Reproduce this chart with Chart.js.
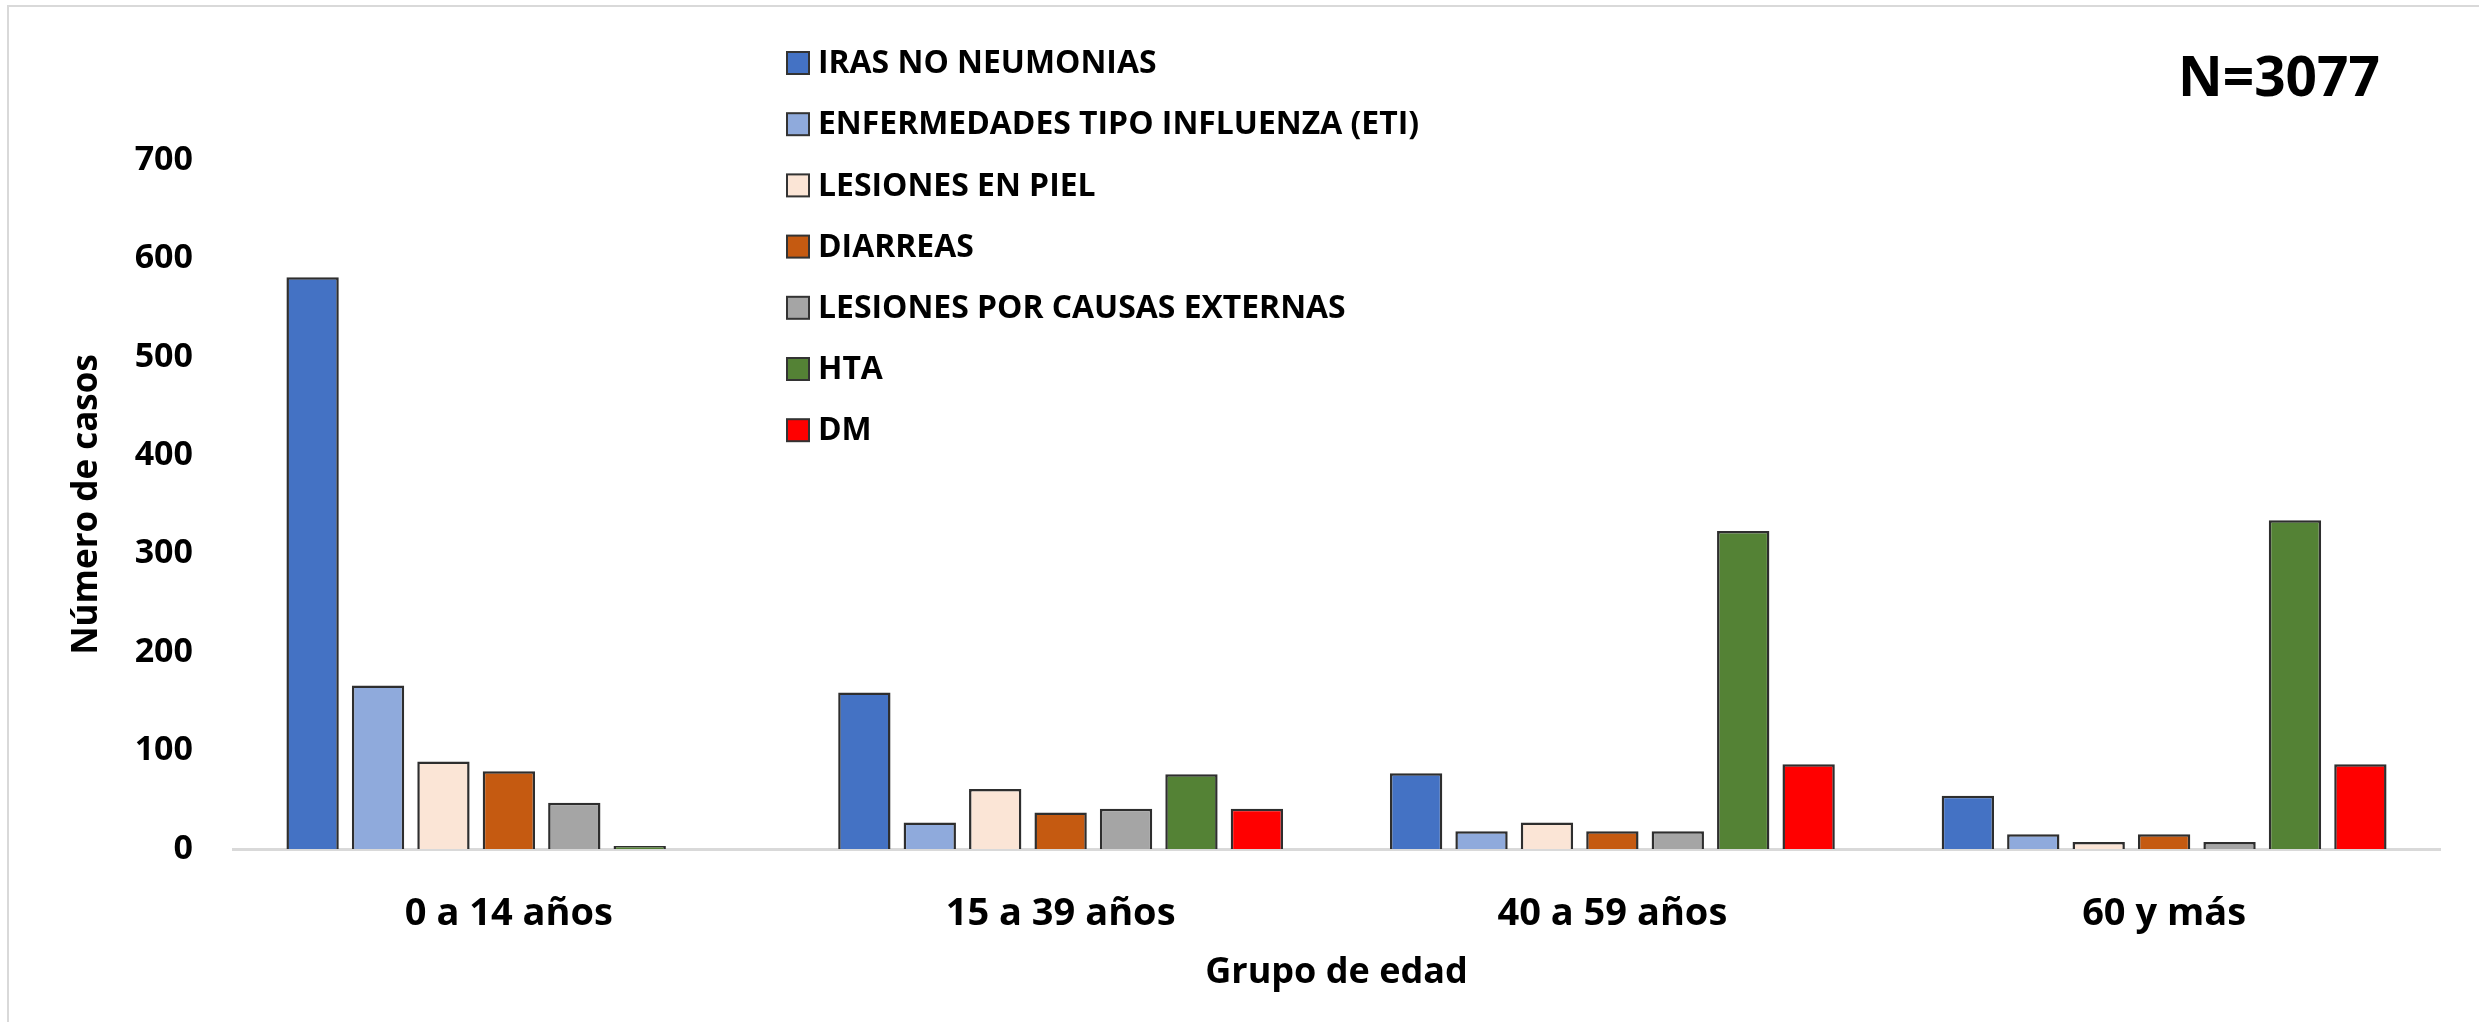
<!DOCTYPE html>
<html>
<head>
<meta charset="utf-8">
<script src="https://cdn.jsdelivr.net/npm/chart.js@4.4.1/dist/chart.umd.min.js"></script>
<style>
  html, body { margin: 0; padding: 0; background: #ffffff; }
  #wrap { position: relative; width: 2479px; height: 1022px; }
  canvas { display: block; }
</style>
</head>
<body>
<div id="wrap"><canvas id="c" width="2479" height="1022"></canvas></div>
<script>
// ---- Data ----
const categories = ['0 a 14 años', '15 a 39 años', '40 a 59 años', '60 y más'];
const seriesNames = [
  'IRAS NO NEUMONIAS',
  'ENFERMEDADES TIPO INFLUENZA (ETI)',
  'LESIONES EN PIEL',
  'DIARREAS',
  'LESIONES POR CAUSAS EXTERNAS',
  'HTA',
  'DM'
];
const irasNoNeumonias   = [581, 159, 77, 54];
const eti               = [166, 27, 18, 15];
const lesionesPiel      = [89, 61, 27, 7];
const diarreas          = [79, 37, 18, 15];
const lesionesExternas  = [47, 41, 18, 7];
const hta               = [3, 76, 323, 334];
const dm                = [0, 41, 86, 86];
const yTicks = [0, 100, 200, 300, 400, 500, 600, 700];
const totalLabel = 'N=3077';
const yTitle = 'Número de casos';
const xTitle = 'Grupo de edad';

const seriesValues = [irasNoNeumonias, eti, lesionesPiel, diarreas, lesionesExternas, hta, dm];
const seriesColors = ['#4472C4', '#8FAADC', '#FBE5D6', '#C55A11', '#A5A5A5', '#548235', '#FF0000'];

const FONT = "'Open Sans', 'DejaVu Sans', sans-serif";

const frame = {
  id: 'frame',
  beforeDraw(chart) {
    const ctx = chart.ctx;
    ctx.save();
    ctx.fillStyle = '#ffffff';
    ctx.fillRect(0, 0, chart.width, chart.height);
    ctx.strokeStyle = '#d9d9d9';
    ctx.lineWidth = 2;
    ctx.beginPath();
    ctx.moveTo(8, chart.height);
    ctx.lineTo(8, 6);
    ctx.lineTo(chart.width, 6);
    ctx.stroke();
    ctx.restore();
  }
};

const customLegend = {
  id: 'customLegend',
  afterDraw(chart) {
    const ctx = chart.ctx;
    ctx.save();
    const x0 = 787, boxW = 22, boxH = 22, textX = 818;
    const y0 = 63, dy = 61.2;
    ctx.font = "bold 32px " + FONT;
    const longest = chart.data.datasets[1].label;
    const sx = Math.min(1, 601 / ctx.measureText(longest).width);
    chart.data.datasets.forEach((ds, i) => {
      const y = y0 + i * dy;
      ctx.fillStyle = ds.backgroundColor;
      ctx.fillRect(x0, y - boxH / 2, boxW, boxH);
      ctx.strokeStyle = '#333333';
      ctx.lineWidth = 2;
      ctx.strokeRect(x0, y - boxH / 2, boxW, boxH);
      ctx.fillStyle = '#000000';
      ctx.textBaseline = 'middle';
      ctx.textAlign = 'left';
      ctx.save();
      ctx.translate(textX, y + 1);
      ctx.scale(sx, 1);
      ctx.fillText(ds.label, 0, 0);
      ctx.restore();
    });
    // N label
    ctx.font = "bold 55px " + FONT;
    ctx.fillStyle = '#000000';
    ctx.textBaseline = 'middle';
    ctx.textAlign = 'left';
    ctx.fillText(totalLabel, 2178, 80);
    ctx.restore();
  }
};

const datasets = seriesNames.map((name, i) => ({
  label: name,
  data: seriesValues[i],
  backgroundColor: seriesColors[i],
  borderColor: '#2e2e2e',
  borderWidth: 2.5,
  categoryPercentage: 0.83,
  barPercentage: 0.8
}));

new Chart(document.getElementById('c'), {
  type: 'bar',
  data: { labels: categories, datasets },
  options: {
    responsive: false,
    animation: false,
    devicePixelRatio: 1,
    layout: { padding: { left: 0, right: 39, top: 160, bottom: 0 } },
    plugins: {
      legend: { display: false },
      tooltip: { enabled: false },
      title: { display: false }
    },
    scales: {
      x: {
        grid: { display: false, drawTicks: false },
        border: { display: true, color: '#d9d9d9', width: 3 },
        ticks: {
          color: '#000000',
          font: { family: FONT, size: 38, weight: 'bold' },
          padding: 42,
          maxRotation: 0
        },
        title: {
          display: true,
          text: xTitle,
          color: '#000000',
          font: { family: FONT, size: 36, weight: 'bold' },
          padding: { top: 0, bottom: 28 }
        },
        afterFit(scale) { scale.height = 173; }
      },
      y: {
        min: 0,
        max: 700,
        afterBuildTicks(scale) { scale.ticks = yTicks.map(v => ({ value: v })); },
        grid: { display: false, drawTicks: false },
        border: { display: false },
        ticks: {
          color: '#000000',
          font: { family: FONT, size: 34, weight: 'bold' },
          padding: 40
        },
        title: {
          display: true,
          text: yTitle,
          color: '#000000',
          font: { family: FONT, size: 35, weight: 'bold' },
          padding: { top: 66, bottom: 0 }
        },
        afterFit(scale) { scale.width = 233; }
      }
    }
  },
  plugins: [frame, customLegend]
});
</script>
</body>
</html>
